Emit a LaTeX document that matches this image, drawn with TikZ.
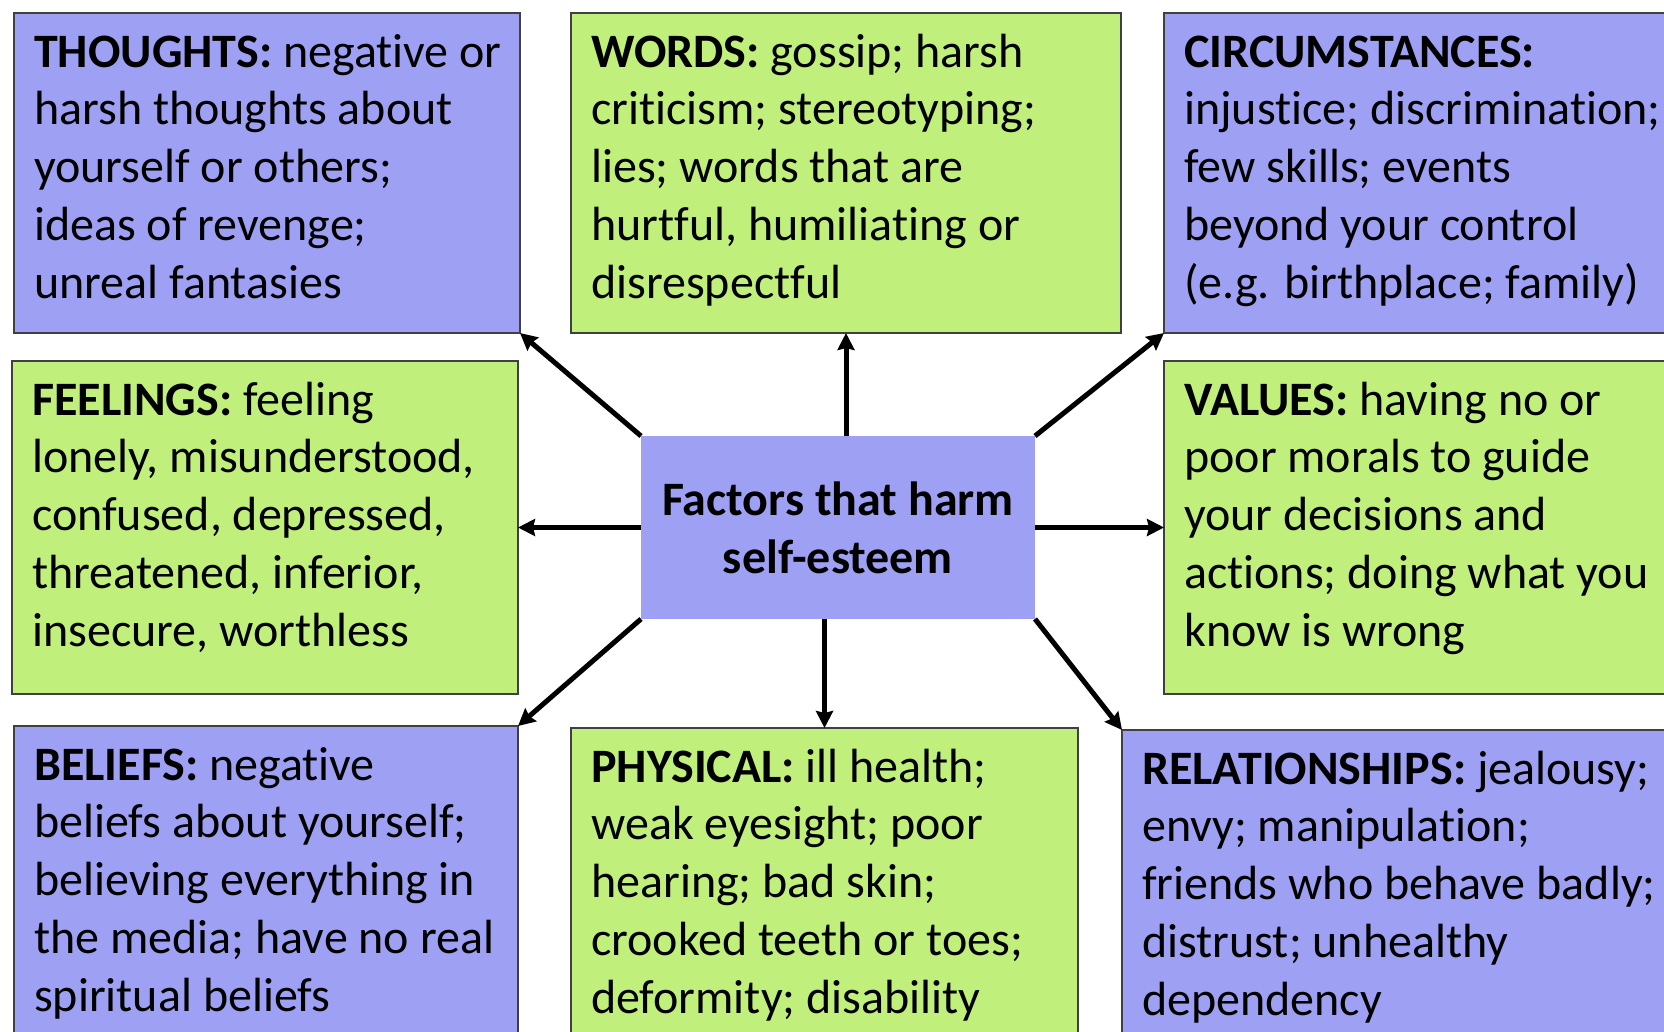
\documentclass[tikz,border=0pt]{standalone}
\usepackage{fontspec}
\setmainfont{Carlito}[Ligatures={NoCommon}]
\usetikzlibrary{arrows.meta,calc}
\definecolor{boxblue}{RGB}{158,161,243}
\definecolor{boxgreen}{RGB}{192,239,123}
\definecolor{boxline}{RGB}{64,64,64}
% multi-line text block whose reference point is the first baseline
\newcommand{\factortext}[1]{\parbox[t]{760pt}{\fontsize{48}{57.8}\selectfont\raggedright #1}}
\tikzset{
  factorbox/.style={draw=boxline, line width=1.2pt, anchor=north west, inner sep=0pt, outer sep=0pt},
  bluebox/.style={factorbox, fill=boxblue},
  greenbox/.style={factorbox, fill=boxgreen},
  factorlabel/.style={anchor=base west, inner sep=0pt},
  conn/.style={line width=5pt, -{Stealth[length=17pt,width=17pt,inset=2pt]}}
}
\begin{document}
\begin{tikzpicture}[x=1pt,y=-1pt]
  \clip (0,0) rectangle (1664,1031);
  \fill[white] (0,0) rectangle (1664,1031);

  % outer factor boxes
  \node[bluebox,  minimum width=506pt, minimum height=320pt] (th) at (14,13) {};
  \node[greenbox, minimum width=550pt, minimum height=320pt] (wd) at (571,13) {};
  \node[bluebox,  minimum width=560pt, minimum height=320pt] (ci) at (1164,13) {};
  \node[greenbox, minimum width=506pt, minimum height=333pt] (fe) at (12,361) {};
  \node[greenbox, minimum width=560pt, minimum height=333pt] (va) at (1164,361) {};
  \node[bluebox,  minimum width=504pt, minimum height=400pt] (be) at (14,726) {};
  \node[greenbox, minimum width=507pt, minimum height=400pt] (ph) at (571,728) {};
  \node[bluebox,  minimum width=600pt, minimum height=400pt] (re) at (1122,730) {};

  % box texts
  \node[factorlabel] (thT) at ($(th.north west)+(20,54)$) {\factortext{\textbf{THOUGHTS:} negative or\\harsh thoughts about\\yourself or others;\\ideas of revenge;\\unreal fantasies}};
  \node[factorlabel] (wdT) at ($(wd.north west)+(20,54)$) {\factortext{\textbf{WORDS:} gossip; harsh\\criticism; stereotyping;\\lies; words that are\\hurtful, humiliating or\\disrespectful}};
  \node[factorlabel] (ciT) at ($(ci.north west)+(20,54)$) {\factortext{\textbf{CIRCUMSTANCES:}\\injustice; discrimination;\\few skills; events\\beyond your control\\(e.g. birthplace; family)}};
  \node[factorlabel] (feT) at ($(fe.north west)+(20,54)$) {\factortext{\textbf{FEELINGS:} feeling\\lonely, misunderstood,\\confused, depressed,\\threatened, inferior,\\insecure, worthless}};
  \node[factorlabel] (vaT) at ($(va.north west)+(20,54)$) {\factortext{\textbf{VALUES:} having no or\\poor morals to guide\\your decisions and\\actions; doing what you\\know is wrong}};
  \node[factorlabel] (beT) at ($(be.north west)+(20,54)$) {\factortext{\textbf{BELIEFS:} negative\\beliefs about yourself;\\believing everything in\\the media; have no real\\spiritual beliefs}};
  \node[factorlabel] (phT) at ($(ph.north west)+(20,54)$) {\factortext{\textbf{PHYSICAL:} ill health;\\weak eyesight; poor\\hearing; bad skin;\\crooked teeth or toes;\\deformity; disability}};
  \node[factorlabel] (reT) at ($(re.north west)+(20,54)$) {\factortext{\textbf{RELATIONSHIPS:} jealousy;\\envy; manipulation;\\friends who behave badly;\\distrust; unhealthy\\dependency}};

  % central topic
  \node[fill=boxblue, minimum width=394pt, minimum height=183pt, inner sep=0pt, outer sep=0pt,
        align=center, font=\fontsize{48}{57.8}\selectfont\bfseries] (core) at (838,527.5)
        {Factors that harm\\self-esteem};

  % connectors
  \draw[conn] (core.north west) -- (th.south east);
  \draw[conn] (wd.south |- core.north) -- (wd.south);
  \draw[conn] (core.north east) -- (ci.south west);
  \draw[conn] (core.west) -- (fe.east |- core.west);
  \draw[conn] (core.east) -- (va.west |- core.east);
  \draw[conn] (core.south west) -- (be.north east);
  \draw[conn] (ph.north |- core.south) -- (ph.north);
  \draw[conn] (core.south east) -- (re.north west);
\end{tikzpicture}
\end{document}
